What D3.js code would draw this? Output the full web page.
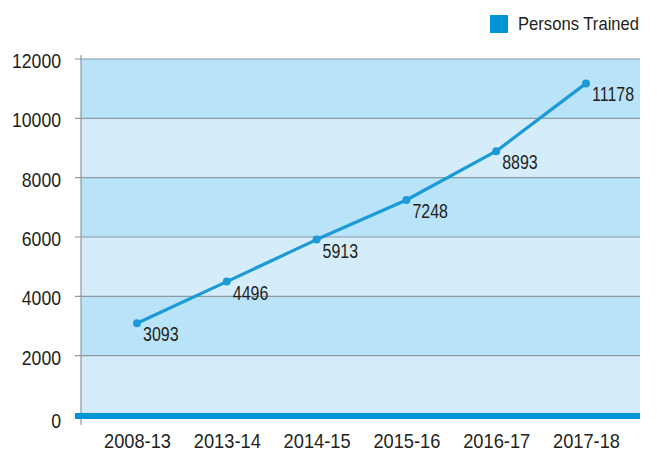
<!DOCTYPE html>
<html><head><meta charset="utf-8">
<script src="https://cdn.jsdelivr.net/npm/d3@7"></script>
<style>body{margin:0;background:#fff}svg{display:block}text{font-family:"Liberation Sans",Arial,sans-serif;fill:#231f20}</style>
</head><body><svg id="c" width="657" height="452"></svg>
<script>
const categories = ["2008-13","2013-14","2014-15","2015-16","2016-17","2017-18"];
const values = [3093,4496,5913,7248,8893,11178];
const yTicks = [0,2000,4000,6000,8000,10000,12000];
const seriesName = "Persons Trained";

function narrow(sel, s) {
  sel.each(function(){
    const ax = +this.getAttribute("x") || 0;
    this.setAttribute("transform", `translate(${ax},0) scale(${s},1) translate(${-ax},0)`);
  });
}

const svg = d3.select("#c");
const L = 81, R = 640, T = 59, B = 415;
const x = d3.scalePoint().domain(categories).range([137, 586]);
const y = d3.scaleLinear().domain([0,12000]).range([B, T]);

// bands
const bands = d3.pairs(yTicks);
svg.append("g").selectAll("rect").data(bands).join("rect")
  .attr("x", L).attr("width", R - L)
  .attr("y", d => y(d[1])).attr("height", d => y(d[0]) - y(d[1]))
  .attr("fill", (d,i) => i % 2 === 0 ? "#d5edfb" : "#b9e3f9");

// gridlines
svg.append("g").selectAll("line").data(yTicks.filter(v => v > 0)).join("line")
  .attr("x1", 75).attr("x2", R).attr("y1", d => y(d)).attr("y2", d => y(d))
  .attr("stroke", "#8c9aa3").attr("stroke-width", 1.2);

// y axis line
svg.append("line").attr("x1", L).attr("x2", L).attr("y1", T - 4).attr("y2", B + 10)
  .attr("stroke", "#8c9aa3").attr("stroke-width", 1.2);

// y axis labels
const yAxis = d3.axisLeft(y).tickValues(yTicks).tickSize(0).tickPadding(20).tickFormat(d3.format("d"));
const ya = svg.append("g").attr("transform", `translate(${L},0)`).call(yAxis);
ya.select(".domain").remove();
ya.selectAll("text").attr("font-size", 21).attr("fill", "#231f20")
  .style("font-family", '"Liberation Sans",Arial,sans-serif')
  .attr("dy", d => d === 0 ? "0.6em" : "0.4em")
  .call(narrow, 0.84);

// baseline
svg.append("line").attr("x1", 75).attr("x2", R).attr("y1", y(0)+1).attr("y2", y(0)+1)
  .attr("stroke", "#0096d6").attr("stroke-width", 6);

// x labels
const xAxis = d3.axisBottom(x).tickSize(0).tickPadding(0);
const xa = svg.append("g").attr("transform", `translate(0,${B})`).call(xAxis);
xa.select(".domain").remove();
xa.selectAll("text").attr("font-size", 21).attr("fill", "#231f20")
  .style("font-family", '"Liberation Sans",Arial,sans-serif')
  .attr("dy", 0).attr("y", 33)
  .call(narrow, 0.87);

// line
const line = d3.line().x((d,i) => x(categories[i])).y(d => y(d));
svg.append("path").datum(values).attr("d", line)
  .attr("fill", "none").attr("stroke", "#1b9ad7").attr("stroke-width", 3.2)
  .attr("stroke-linejoin", "round");
svg.append("g").selectAll("circle").data(values).join("circle")
  .attr("cx", (d,i) => x(categories[i])).attr("cy", d => y(d)).attr("r", 4)
  .attr("fill", "#1b9ad7");

// value labels
svg.append("g").selectAll("text").data(values).join("text")
  .attr("x", (d,i) => x(categories[i]) + 6).attr("y", d => y(d) + 18)
  .attr("font-size", 19.5).text(d => d)
  .call(narrow, 0.82);

// legend
svg.append("rect").attr("x", 490).attr("y", 15).attr("width", 18).attr("height", 18).attr("fill", "#0096d6");
svg.append("text").attr("x", 518).attr("y", 30).attr("font-size", 18.5).text(seriesName)
  .call(narrow, 0.9);
</script></body></html>
